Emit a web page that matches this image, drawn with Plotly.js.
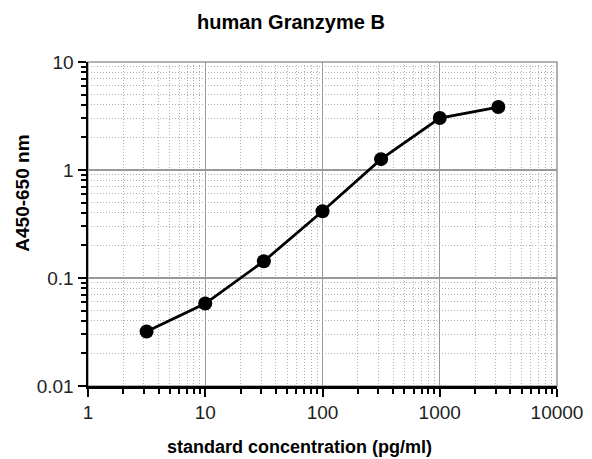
<!DOCTYPE html>
<html><head><meta charset="utf-8">
<script src="https://cdn.plot.ly/plotly-3.0.1.min.js"></script>
<style>body{margin:0;background:#fff}#c{width:592px;height:459px}</style>
</head><body><div id="c"></div>
<script>
const concentration = [3.16, 10, 31.6, 100, 316, 1000, 3160];
const absorbance = [0.032, 0.058, 0.143, 0.415, 1.26, 3.03, 3.83];
const xTickVals = [1, 10, 100, 1000, 10000];
const xTickText = ['1', '10', '100', '1000', '10000'];
const yTickVals = [0.01, 0.1, 1, 10];
const yTickText = ['0.01', '0.1', '1', '10'];

const font = 'Liberation Sans, Arial, Helvetica, sans-serif';
const axisCommon = {
  type: 'log', showline: true, linecolor: '#000', linewidth: 2.5,
  ticks: 'outside', ticklen: 8, tickwidth: 2, tickcolor: '#000',
  showgrid: true, gridcolor: '#999', gridwidth: 1.3,
  zeroline: false, tickmode: 'array',
  tickfont: {family: font, size: 19, color: '#222'},
  minor: {ticks: 'outside', ticklen: 5, tickwidth: 2, tickcolor: '#000',
          dtick: 'D1', showgrid: true, gridcolor: '#b0b0b0', gridwidth: 1, griddash: '1px,2px'}
};

const data = [{
  x: concentration, y: absorbance, type: 'scatter', mode: 'lines+markers',
  line: {color: '#000', width: 2.8},
  marker: {color: '#000', size: 14}
}];

const layout = {
  width: 592, height: 459,
  margin: {l: 88, r: 35, t: 62, b: 73},
  paper_bgcolor: '#fff', plot_bgcolor: '#fff',
  showlegend: false,
  xaxis: Object.assign({}, axisCommon, {range: [0, 4], tickvals: xTickVals, ticktext: xTickText}),
  yaxis: Object.assign({}, axisCommon, {range: [-2, 1], tickvals: yTickVals, ticktext: yTickText}),
  shapes: [{type: 'rect', xref: 'paper', yref: 'paper', x0: 0, x1: 1, y0: 0, y1: 1,
            line: {color: '#999', width: 1.5}, layer: 'below'}],
  annotations: [
    {text: '<b>human Granzyme B</b>', xref: 'paper', yref: 'paper', x: 0.433, y: 1.123,
     xanchor: 'center', yanchor: 'middle', showarrow: false, font: {family: font, size: 20, color: '#000'}},
    {text: '<b>standard concentration (pg/ml)</b>', xref: 'paper', yref: 'paper', x: 0.452, y: -0.188,
     xanchor: 'center', yanchor: 'middle', showarrow: false, font: {family: font, size: 18, color: '#000'}},
    {text: '<b>A450-650 nm</b>', xref: 'paper', yref: 'paper', x: -0.139, y: 0.596,
     xanchor: 'center', yanchor: 'middle', textangle: -90, showarrow: false, font: {family: font, size: 19, color: '#000'}}
  ]
};
Plotly.newPlot('c', data, layout, {displayModeBar: false, staticPlot: true});
</script></body></html>
